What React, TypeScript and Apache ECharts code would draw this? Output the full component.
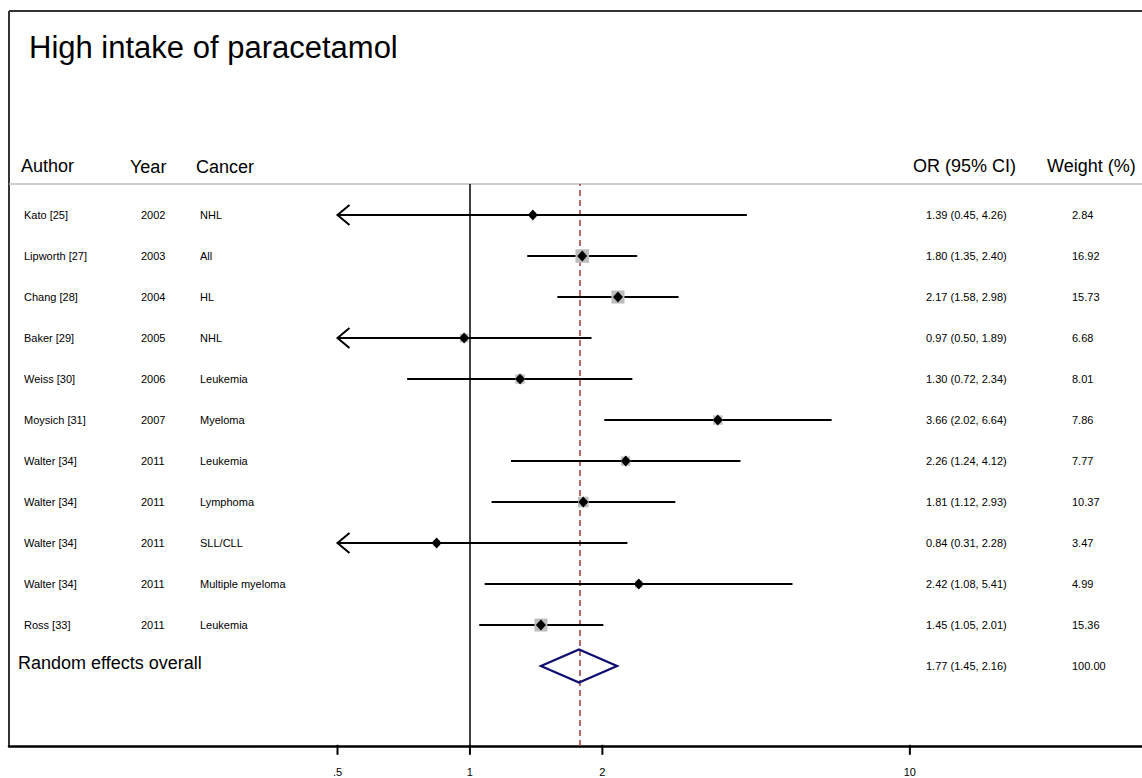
import React, { useEffect, useRef } from "react";
import * as echarts from "echarts";

const authors = ["Kato [25]", "Lipworth [27]", "Chang [28]", "Baker [29]", "Weiss [30]", "Moysich [31]", "Walter [34]", "Walter [34]", "Walter [34]", "Walter [34]", "Ross [33]"];
const years = ["2002", "2003", "2004", "2005", "2006", "2007", "2011", "2011", "2011", "2011", "2011"];
const cancers = ["NHL", "All", "HL", "NHL", "Leukemia", "Myeloma", "Leukemia", "Lymphoma", "SLL/CLL", "Multiple myeloma", "Leukemia"];
const oddsRatios = [1.39, 1.8, 2.17, 0.97, 1.3, 3.66, 2.26, 1.81, 0.84, 2.42, 1.45];
const ciLower = [0.45, 1.35, 1.58, 0.5, 0.72, 2.02, 1.24, 1.12, 0.31, 1.08, 1.05];
const ciUpper = [4.26, 2.4, 2.98, 1.89, 2.34, 6.64, 4.12, 2.93, 2.28, 5.41, 2.01];
const weights = [2.84, 16.92, 15.73, 6.68, 8.01, 7.86, 7.77, 10.37, 3.47, 4.99, 15.36];

const overallLabel = "Random effects overall";
const overallOR = 1.77;
const overallLower = 1.45;
const overallUpper = 2.16;
const overallWeight = 100.0;

const tickValues = [0.5, 1, 2, 10];
const tickLabels = [".5", "1", "2", "10"];

const title = "High intake of paracetamol";
const headers = ["Author", "Year", "Cancer", "OR (95% CI)", "Weight (%)"];

// axis range (odds ratio scale, drawn on log10)
const axisMinOR = 0.0896;
const axisMaxOR = 33.7;
const clipMinOR = 0.5;
const yMin = 0.05;
const yMax = 13.757;

const FONT = "'Liberation Sans', Arial, Helvetica, sans-serif";
const L = (v: number) => Math.log10(v);

export default function App() {
  const ref = useRef<HTMLDivElement>(null);
  useEffect(() => {
    document.body.style.margin = "0";
    if (!ref.current) return;
    const chart = echarts.init(ref.current, undefined, { renderer: "svg" });
    const n = authors.length;
    const rowData = authors.map((_, i) => [i, n + 2 - i, oddsRatios[i], ciLower[i], ciUpper[i], weights[i]]);
    const overallY = 2;

    const textEl = (x: number, y: number, text: string, size: number, align = "left") => ({
      type: "text",
      style: { x, y, text, fill: "#000", font: `${size}px ${FONT}`, align, verticalAlign: "middle" },
    });

    const option: any = {
      animation: false,
      backgroundColor: "#fff",
      grid: { left: 9, right: 0, top: 184, bottom: 32 },
      xAxis: {
        type: "value",
        min: L(axisMinOR),
        max: L(axisMaxOR),
        splitLine: { show: false },
        axisLine: { show: true, lineStyle: { color: "#000", width: 2.5 } },
        axisTick: { show: false },
        axisLabel: {
          customValues: tickValues.map(L),
          margin: 20,
          fontSize: 11,
          fontFamily: FONT,
          color: "#000",
          formatter: (v: number) => {
            let best = 0;
            tickValues.forEach((t, k) => {
              if (Math.abs(L(t) - v) < Math.abs(L(tickValues[best]) - v)) best = k;
            });
            return tickLabels[best];
          },
        },
      },
      yAxis: { type: "value", min: yMin, max: yMax, show: false },
      graphic: [
        { type: "line", shape: { x1: 9, y1: 11, x2: 1142, y2: 11 }, style: { stroke: "#333", lineWidth: 2 } },
        { type: "line", shape: { x1: 9, y1: 11, x2: 9, y2: 746 }, style: { stroke: "#333", lineWidth: 2 } },
        { type: "line", shape: { x1: 9, y1: 184, x2: 1142, y2: 184 }, style: { stroke: "#bbb", lineWidth: 1.5 } },
        { type: "text", x: 29, y: 47, style: { text: title, font: `31px ${FONT}`, fill: "#000", verticalAlign: "middle" } },
        { type: "text", x: 21, y: 166, style: { text: headers[0], font: `18px ${FONT}`, fill: "#000", verticalAlign: "middle" } },
        { type: "text", x: 130, y: 167, style: { text: headers[1], font: `18px ${FONT}`, fill: "#000", verticalAlign: "middle" } },
        { type: "text", x: 196, y: 167, style: { text: headers[2], font: `18px ${FONT}`, fill: "#000", verticalAlign: "middle" } },
        { type: "text", x: 913, y: 166, style: { text: headers[3], font: `18px ${FONT}`, fill: "#000", verticalAlign: "middle" } },
        { type: "text", x: 1047, y: 166, style: { text: headers[4], font: `18px ${FONT}`, fill: "#000", verticalAlign: "middle" } },
      ],
      series: [
        {
          type: "line",
          data: [],
          silent: true,
          z: 1,
          markLine: {
            symbol: "none",
            silent: true,
            label: { show: false },
            data: [
              { xAxis: L(1), lineStyle: { color: "#000", width: 1.5, type: "solid" } },
              { xAxis: L(overallOR), lineStyle: { color: "#9a3d3d", width: 1.5, type: [6, 4] } },
            ],
          },
        },
        {
          type: "custom",
          z: 10,
          silent: true,
          clip: false,
          data: tickValues.map((v) => [L(v), yMin]),
          renderItem: (_p: any, api: any) => {
            const p = api.coord([api.value(0), api.value(1)]);
            return {
              type: "rect",
              shape: { x: p[0] - 1, y: p[1] - 1.2, width: 2, height: 10 },
              style: { fill: "#000" },
            };
          },
        },
        {
          type: "custom",
          z: 5,
          data: rowData,
          renderItem: (_p: any, api: any) => {
            const i = api.value(0);
            const y = api.value(1);
            const est = api.value(2);
            const lo = api.value(3);
            const hi = api.value(4);
            const w = api.value(5);
            const pe = api.coord([L(est), y]);
            const pl = api.coord([L(Math.max(lo, clipMinOR)), y]);
            const ph = api.coord([L(hi), y]);
            const cy = pe[1];
            const side = 3.3 * Math.sqrt(w);
            const children: any[] = [
              { type: "line", shape: { x1: pl[0], y1: cy, x2: ph[0], y2: cy }, style: { stroke: "#000", lineWidth: 2 } },
              { type: "rect", shape: { x: pe[0] - side / 2, y: cy - side / 2, width: side, height: side }, style: { fill: "#bdbdbd" } },
              {
                type: "polygon",
                shape: { points: [[pe[0], cy - 5.5], [pe[0] + 5, cy], [pe[0], cy + 5.5], [pe[0] - 5, cy]] },
                style: { fill: "#000" },
              },
              textEl(24, cy, authors[i], 11),
              textEl(141, cy, years[i], 11),
              textEl(200, cy, cancers[i], 11),
              textEl(926, cy, `${est.toFixed(2)} (${lo.toFixed(2)}, ${hi.toFixed(2)})`, 11),
              textEl(1072, cy, w.toFixed(2), 11),
            ];
            if (lo <= clipMinOR) {
              children.push({
                type: "polyline",
                shape: { points: [[pl[0] + 12, cy - 10], [pl[0], cy], [pl[0] + 12, cy + 10]] },
                style: { stroke: "#000", lineWidth: 2, fill: "none" },
              });
            }
            return { type: "group", children };
          },
        },
        {
          type: "custom",
          z: 5,
          data: [[overallY, overallOR, overallLower, overallUpper, overallWeight]],
          renderItem: (_p: any, api: any) => {
            const y = api.value(0);
            const est = api.value(1);
            const lo = api.value(2);
            const hi = api.value(3);
            const w = api.value(4);
            const pe = api.coord([L(est), y]);
            const pl = api.coord([L(lo), y]);
            const ph = api.coord([L(hi), y]);
            const cy = pe[1];
            return {
              type: "group",
              children: [
                {
                  type: "polygon",
                  shape: { points: [[pl[0], cy], [pe[0], cy - 16.5], [ph[0], cy], [pe[0], cy + 16.5]] },
                  style: { fill: "none", stroke: "#0d0d70", lineWidth: 2.2 },
                },
                textEl(18, cy - 3, overallLabel, 18),
                textEl(926, cy, `${est.toFixed(2)} (${lo.toFixed(2)}, ${hi.toFixed(2)})`, 11),
                textEl(1072, cy, w.toFixed(2), 11),
              ],
            };
          },
        },
      ],
    };
    chart.setOption(option);
    return () => chart.dispose();
  }, []);
  return <div ref={ref} style={{ width: 1142, height: 778 }} />;
}
